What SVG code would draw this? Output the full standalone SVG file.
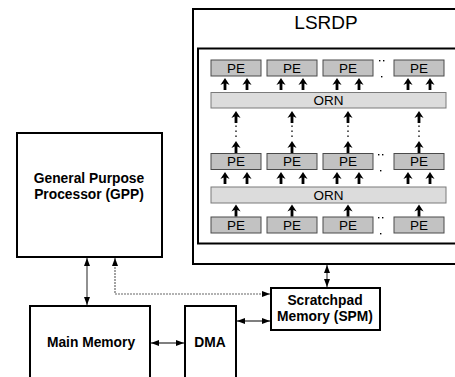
<svg xmlns="http://www.w3.org/2000/svg" xmlns:xlink="http://www.w3.org/1999/xlink" width="455" height="377" viewBox="0 0 455 377">
<style>
.box{fill:#fff;stroke:#000;stroke-width:2}
.pe{fill:#c2c2c2;stroke:#4a4a4a;stroke-width:1}
.orn{fill:#dcdcdc;stroke:#7a7a7a;stroke-width:1}
.t{font-family:"Liberation Sans",Arial,sans-serif;font-size:13.5px;fill:#000;text-anchor:middle}
.b{font-family:"Liberation Sans",Arial,sans-serif;font-size:13.8px;font-weight:bold;fill:#000;text-anchor:middle}
.big{font-family:"Liberation Sans",Arial,sans-serif;font-size:19px;fill:#000;text-anchor:middle}
.con{fill:none;stroke:#555;stroke-width:1.3}
.dash{fill:none;stroke:#666;stroke-width:1.2;stroke-dasharray:2,1}
.dot{fill:#000}
</style>
<defs>
<marker id="ah" viewBox="0 0 8 6" refX="8" refY="3" markerWidth="8" markerHeight="6" markerUnits="userSpaceOnUse" orient="auto-start-reverse">
<path d="M0,0 L8,3 L0,6 Z" fill="#000"/>
</marker>
<path id="ua" d="M0,0 L4.6,7 L1.4,5.6 L1.4,12 L-1.4,12 L-1.4,5.6 L-4.6,7 Z" fill="#000"/>
<g id="dd">
<rect x="-3" y="0" width="1.4" height="1.4"/>
<rect x="1" y="0" width="1.4" height="1.4"/>
<rect x="-1" y="16" width="1.4" height="1.4"/>
</g>
</defs>

<g id="lsrdp">
<rect class="box" x="193" y="9" width="300" height="255"/>
<text class="big" x="326" y="29">LSRDP</text>
<rect class="box" x="198" y="48.5" width="300" height="195"/>
</g>

<g id="pe-row1">
<rect class="pe" x="211" y="60" width="50" height="16"/><text class="t" x="236" y="72.5">PE</text>
<rect class="pe" x="267" y="60" width="50" height="16"/><text class="t" x="292" y="72.5">PE</text>
<rect class="pe" x="323" y="60" width="50" height="16"/><text class="t" x="348" y="72.5">PE</text>
<rect class="pe" x="394" y="60" width="50" height="16"/><text class="t" x="419" y="72.5">PE</text>
<use href="#dd" x="382" y="60"/>
</g>
<g id="orn1">
<rect class="orn" x="211" y="92.5" width="235" height="15.5"/>
<text class="t" x="328.5" y="104.5">ORN</text>
</g>
<g id="pe-row2">
<rect class="pe" x="211" y="153.5" width="50" height="16"/><text class="t" x="236" y="166">PE</text>
<rect class="pe" x="267" y="153.5" width="50" height="16"/><text class="t" x="292" y="166">PE</text>
<rect class="pe" x="323" y="153.5" width="50" height="16"/><text class="t" x="348" y="166">PE</text>
<rect class="pe" x="394" y="153.5" width="50" height="16"/><text class="t" x="419" y="166">PE</text>
<use href="#dd" x="381" y="154"/>
</g>
<g id="orn2">
<rect class="orn" x="211" y="187" width="235" height="16"/>
<text class="t" x="328.5" y="199.5">ORN</text>
</g>
<g id="pe-row3">
<rect class="pe" x="211" y="217" width="50" height="16"/><text class="t" x="236" y="229.5">PE</text>
<rect class="pe" x="267" y="217" width="50" height="16"/><text class="t" x="292" y="229.5">PE</text>
<rect class="pe" x="323" y="217" width="50" height="16"/><text class="t" x="348" y="229.5">PE</text>
<rect class="pe" x="394" y="217" width="50" height="16"/><text class="t" x="419" y="229.5">PE</text>
<use href="#dd" x="381" y="217"/>
</g>

<g id="gpp">
<rect class="box" x="17" y="133" width="145" height="124"/>
<text class="b" x="89" y="183">General Purpose</text>
<text class="b" x="89" y="199">Processor (GPP)</text>
</g>
<g id="main-memory">
<rect class="box" x="30" y="306" width="120" height="100"/>
<text class="b" x="91" y="347">Main Memory</text>
</g>
<g id="dma">
<rect class="box" x="185" y="306" width="51" height="100"/>
<text class="b" x="210" y="347">DMA</text>
</g>
<g id="spm">
<rect class="box" x="271" y="288" width="109" height="42"/>
<text class="b" x="325" y="305">Scratchpad</text>
<text class="b" x="325" y="321">Memory (SPM)</text>
</g>

<g id="connectors">
<g id="pe-arrows">
<use href="#ua" x="225" y="78"/><use href="#ua" x="247" y="78"/>
<use href="#ua" x="281" y="78"/><use href="#ua" x="303" y="78"/>
<use href="#ua" x="337" y="78"/><use href="#ua" x="359" y="78"/>
<use href="#ua" x="408" y="78"/><use href="#ua" x="430" y="78"/>
<use href="#ua" x="236" y="111"/><use href="#ua" x="292" y="111"/><use href="#ua" x="348" y="111"/><use href="#ua" x="419" y="111"/>
<use href="#ua" x="236" y="141"/><use href="#ua" x="292" y="141"/><use href="#ua" x="348" y="141"/><use href="#ua" x="419" y="141"/>
<use href="#ua" x="225" y="172"/><use href="#ua" x="247" y="172"/>
<use href="#ua" x="281" y="172"/><use href="#ua" x="303" y="172"/>
<use href="#ua" x="337" y="172"/><use href="#ua" x="359" y="172"/>
<use href="#ua" x="408" y="172"/><use href="#ua" x="430" y="172"/>
<use href="#ua" x="236" y="204.5"/><use href="#ua" x="292" y="204.5"/><use href="#ua" x="348" y="204.5"/><use href="#ua" x="419" y="204.5"/>
</g>
<g id="vdots" class="dot">
<rect x="235.3" y="125.5" width="1.4" height="1.4"/><rect x="235.3" y="130.5" width="1.4" height="1.4"/><rect x="235.3" y="135.5" width="1.4" height="1.4"/>
<rect x="291.3" y="125.5" width="1.4" height="1.4"/><rect x="291.3" y="130.5" width="1.4" height="1.4"/><rect x="291.3" y="135.5" width="1.4" height="1.4"/>
<rect x="347.3" y="125.5" width="1.4" height="1.4"/><rect x="347.3" y="130.5" width="1.4" height="1.4"/><rect x="347.3" y="135.5" width="1.4" height="1.4"/>
<rect x="418.3" y="125.5" width="1.4" height="1.4"/><rect x="418.3" y="130.5" width="1.4" height="1.4"/><rect x="418.3" y="135.5" width="1.4" height="1.4"/>
</g>
<line class="con" x1="87" y1="258" x2="87" y2="305" marker-start="url(#ah)" marker-end="url(#ah)"/>
<path class="dash" d="M115,258 V294 H270" marker-start="url(#ah)" marker-end="url(#ah)"/>
<line class="con" x1="327" y1="265" x2="327" y2="287" marker-start="url(#ah)" marker-end="url(#ah)"/>
<line class="con" x1="151" y1="343" x2="184" y2="343" marker-start="url(#ah)" marker-end="url(#ah)"/>
<line class="con" x1="237" y1="321" x2="270" y2="321" marker-start="url(#ah)" marker-end="url(#ah)"/>
</g>
</svg>
